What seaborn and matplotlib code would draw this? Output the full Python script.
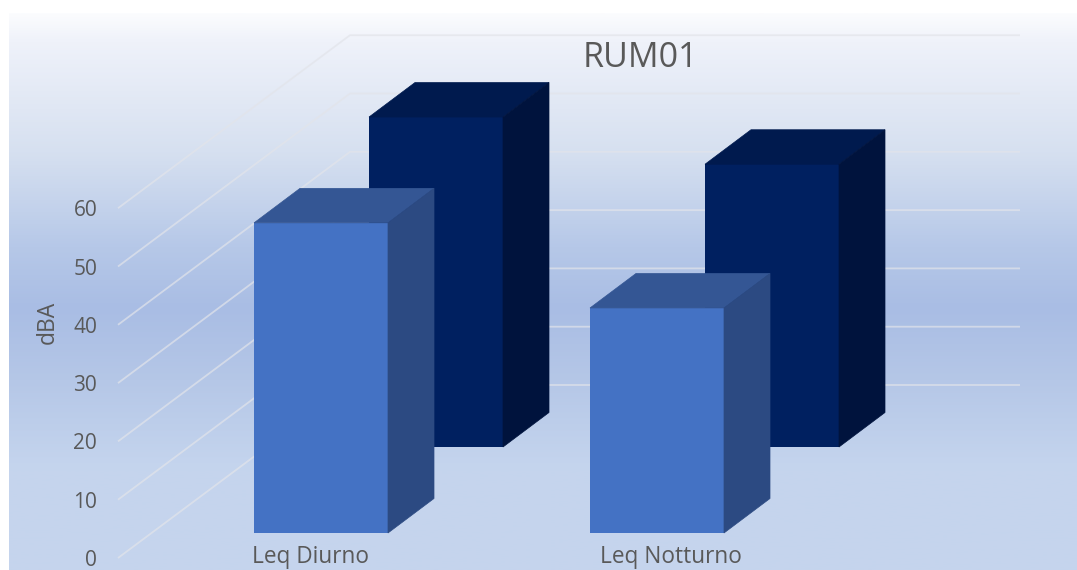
import numpy as np
import matplotlib
matplotlib.use("Agg")
import matplotlib.pyplot as plt
import seaborn as sns
from matplotlib.colors import LinearSegmentedColormap
from matplotlib.patches import Polygon

# Chart data
categories = ["Leq Diurno", "Leq Notturno"]
front_values = [53.2, 38.6]
rear_values = [56.6, 48.5]
value_ticks = [0, 10, 20, 30, 40, 50, 60]
title_text = "RUM01"
value_label = "dBA"

W, H = 1077, 570
PX_PER_UNIT = 5.83       # vertical pixels per dBA
CAT_SPACING = 336        # pixels between category centres
BAR_WIDTH = 134          # pixels
DEPTH_X, DEPTH_Y = 46, 34.5     # oblique offset of a bar's depth
TEXT = "#595959"
GRID = "#e2e4ea"

sns.set_theme(style="white")
plt.rcParams["font.family"] = ["Open Sans", "DejaVu Sans"]

fig = plt.figure(figsize=(W / 100, H / 100), dpi=100, facecolor="white")


def add_axes_px(left, top, right, bottom, z):
    """Create an axes from pixel edges measured from the top-left corner."""
    ax = fig.add_axes([left / W, 1 - bottom / H, (right - left) / W, (bottom - top) / H])
    ax.set_zorder(z)
    ax.patch.set_visible(False)
    return ax


# Panel background: vertical gradient
bg = add_axes_px(9, 13, W, H, 0)
stops = [
    (0.00, "#fbfcfe"), (0.05, "#eff2fa"), (0.25, "#d6e0f0"),
    (0.42, "#b6c8e8"), (0.53, "#a9bde4"), (0.66, "#b5c7e7"),
    (0.82, "#c5d5ee"), (1.00, "#c5d4ed"),
]
cmap = LinearSegmentedColormap.from_list("panel", stops)
bg.imshow(np.linspace(0, 1, 256)[:, None], aspect="auto", cmap=cmap,
          extent=(0, 1, 0, 1), vmin=0, vmax=1)
bg.axis("off")

# Walls: side-wall diagonals continuing into back-wall rules
wall_left, wall_right, wall_top, wall_floor = 118, 1020, 25, 558
wall = add_axes_px(wall_left, wall_top, wall_right, wall_floor, 1)
wall.set_xlim(wall_left, wall_right)
wall.set_ylim(0, (wall_floor - wall_top) / PX_PER_UNIT)
back_x = 350
rise = (wall_floor - 385) / PX_PER_UNIT
for v in value_ticks:
    wall.plot([wall_left, back_x, wall_right], [v, v + rise, v + rise],
              color=GRID, lw=1.3, alpha=0.7, clip_on=False, solid_capstyle="butt")
sns.despine(ax=wall, left=True, bottom=True)
wall.set_yticks(value_ticks)
wall.set_yticklabels([str(v) for v in value_ticks], color=TEXT, fontsize=15)
wall.set_xticks([310, 671])
wall.set_xticklabels(categories, color=TEXT, fontsize=16.3)
wall.tick_params(axis="y", length=0, pad=15)
wall.tick_params(axis="x", length=0, pad=-9.5)
wall.set_ylabel(value_label, color=TEXT, fontsize=16.5)
wall.yaxis.set_label_coords((60 - wall_left) / (wall_right - wall_left),
                            (wall_floor - 322) / (wall_floor - wall_top))


def draw_row(ax, values, front_c, side_c, top_c):
    """Draw one row of bars, then extrude each into an oblique box."""
    sns.barplot(x=categories, y=values, ax=ax, color=front_c, saturation=1,
                width=BAR_WIDTH / CAT_SPACING, linewidth=0)
    ax.set_xlim(-0.5, 1.5)
    ax.set_ylim(0, 60)
    dx = DEPTH_X / CAT_SPACING
    dy = DEPTH_Y / PX_PER_UNIT
    for bar in list(ax.patches):
        x0, x1, h = bar.get_x(), bar.get_x() + bar.get_width(), bar.get_height()
        ax.add_patch(Polygon([(x0, h), (x0 + dx, h + dy), (x1 + dx, h + dy), (x1, h)],
                             closed=True, fc=top_c, ec=top_c, lw=0.5, clip_on=False))
        ax.add_patch(Polygon([(x1, 0), (x1 + dx, dy), (x1 + dx, h + dy), (x1, h)],
                             closed=True, fc=side_c, ec=side_c, lw=0.5, clip_on=False))
    ax.axis("off")


def row_axes(left, floor, z):
    return add_axes_px(left, floor - 60 * PX_PER_UNIT, left + 2 * CAT_SPACING, floor, z)


# Rear row sits further back along the same oblique direction
rear = row_axes(153 + 115, 447, 2)
draw_row(rear, rear_values, "#002060", "#00133d", "#001a4e")

front = row_axes(153, 533, 3)
draw_row(front, front_values, "#4472c4", "#2c4a82", "#345694")

fig.text(640 / W, 1 - 67 / H, title_text, color=TEXT, fontsize=24.5,
         ha="center", va="baseline", zorder=10)

fig.savefig("out.png", dpi=100)
